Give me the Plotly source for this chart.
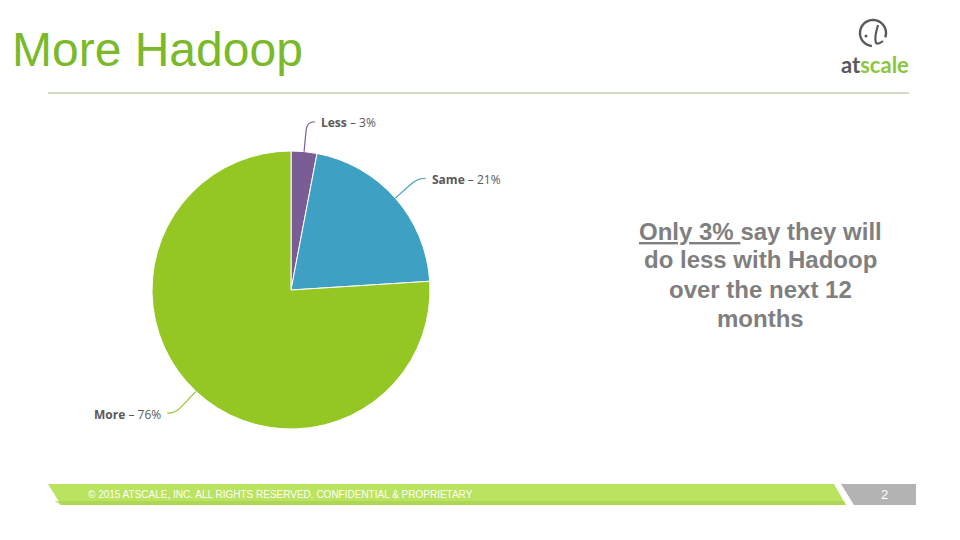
import math
import plotly.graph_objects as go

W, H = 960, 540

# survey answers: will you use Hadoop more / same / less over the next 12 months
labels = ["Less", "Same", "More"]
values = [3, 21, 76]
colors = ["#7B5D95", "#3EA1C3", "#94C724"]

title = "More Hadoop"
callout = ["Only 3% say they will", "do less with Hadoop", "over the next 12", "months"]
footer = "\u00a9 2015 ATSCALE, INC. ALL RIGHTS RESERVED. CONFIDENTIAL & PROPRIETARY"
page_no = "2"

# pie geometry in pixels
cx, cy, r = 291, 290, 139


def px(x):
    return x / W


def py(y):
    return 1 - y / H


def path(points, close=False):
    s = "M " + " L ".join(f"{px(x):.5f},{py(y):.5f}" for x, y in points)
    return s + (" Z" if close else "")


fig = go.Figure()
fig.add_trace(go.Pie(
    labels=labels, values=values, sort=False, direction="clockwise", rotation=0,
    marker=dict(colors=colors, line=dict(color="white", width=1)),
    textinfo="none", hoverinfo="label+percent", showlegend=False,
    domain=dict(x=[px(cx - r), px(cx + r)], y=[py(cy + r), py(cy - r)]),
))

shapes = []
annotations = []

# leader lines + labels, placed from the slice mid angles
total = sum(values)
acc = 0
for lab, v, col in zip(labels, values, colors):
    mid = (acc + v / 2) / total * 2 * math.pi
    acc += v
    dx, dy = math.sin(mid), -math.cos(mid)
    ex, ey = cx + r * dx, cy + r * dy
    bx, by = cx + (r + 22) * dx, cy + (r + 22) * dy
    kx, ky = cx + (r + 30) * dx, cy + (r + 30) * dy
    side = 1 if dx >= 0 else -1
    tx = kx + side * 8
    d = (f"M {px(ex):.5f},{py(ey):.5f} L {px(bx):.5f},{py(by):.5f} "
         f"Q {px(kx):.5f},{py(ky):.5f} {px(tx):.5f},{py(ky):.5f}")
    shapes.append(dict(type="path", path=d, xref="paper", yref="paper",
                       line=dict(color=col, width=1.2)))
    annotations.append(dict(
        x=px(tx + side * 4), y=py(ky + 1), xref="paper", yref="paper",
        text=f"<b>{lab}</b> \u2013 {round(v / total * 100)}%",
        showarrow=False, xanchor="left" if side > 0 else "right", yanchor="middle",
        font=dict(family="Open Sans", size=12, color="#595959")))

# rule under the title
shapes.append(dict(type="line", xref="paper", yref="paper",
                   x0=px(48), x1=px(909), y0=py(93), y1=py(93),
                   line=dict(color="#A3B58A", width=1)))

# footer bars
shapes.append(dict(type="path", xref="paper", yref="paper",
                   path=path([(48, 484), (834, 484), (846, 505), (61, 505)], close=True),
                   fillcolor="#BAE35F", line=dict(width=0)))
shapes.append(dict(type="path", xref="paper", yref="paper",
                   path=path([(54, 501), (844, 501), (846, 505), (61, 505)], close=True),
                   fillcolor="#A6CF4E", line=dict(width=0), opacity=0.6))
shapes.append(dict(type="path", xref="paper", yref="paper",
                   path=path([(841, 484), (916, 484), (916, 505), (854, 505)], close=True),
                   fillcolor="#B3B3B3", line=dict(width=0)))

# logo icon: open ring, inner stroke and dot
arc = []
for i in range(49):
    a = math.radians(-20 + i * 285 / 48)
    arc.append((873 + 13 * math.cos(a), 33 - 13 * math.sin(a)))
shapes.append(dict(type="path", xref="paper", yref="paper", path=path(arc),
                   line=dict(color="#58595B", width=2.4)))
shapes.append(dict(type="path", xref="paper", yref="paper",
                   path=(f"M {px(878):.5f},{py(25):.5f} Q {px(874):.5f},{py(38):.5f} "
                         f"{px(876):.5f},{py(43):.5f} Q {px(878):.5f},{py(45):.5f} {px(883):.5f},{py(41):.5f}"),
                   line=dict(color="#58595B", width=2.2)))
shapes.append(dict(type="circle", xref="paper", yref="paper",
                   x0=px(864.5), x1=px(867.5), y0=py(37.5), y1=py(34.5),
                   fillcolor="#58595B", line=dict(width=0)))

annotations.append(dict(x=px(875), y=py(65), xref="paper", yref="paper", showarrow=False,
                        text="<span style='color:#58595B'>at</span><span style='color:#8DC63F'>scale</span>",
                        xanchor="center", yanchor="middle",
                        font=dict(family="Lato", size=22, weight="bold")))

# title
annotations.append(dict(x=px(10), y=py(49), xref="paper", yref="paper", showarrow=False,
                        text=title, xanchor="left", yanchor="middle",
                        font=dict(family="Liberation Sans", size=48, color="#7AB929")))

# callout, one line per annotation to keep the slide's line pitch
first = callout[0].replace("Only 3% ", "<span style='text-decoration:underline'>Only 3%\u00a0</span>")
lines = [first] + callout[1:]
for i, t in enumerate(lines):
    annotations.append(dict(x=px(760), y=py(231 + 29 * i), xref="paper", yref="paper", showarrow=False,
                            text=t, xanchor="center", yanchor="middle",
                            font=dict(family="Liberation Sans", size=24, color="#7F7F7F", weight="bold")))

# footer text
annotations.append(dict(x=px(86), y=py(494.5), xref="paper", yref="paper", showarrow=False,
                        text=footer, xanchor="left", yanchor="middle",
                        font=dict(family="Liberation Sans", size=10, color="white")))
annotations.append(dict(x=px(884), y=py(494), xref="paper", yref="paper", showarrow=False,
                        text=page_no, xanchor="center", yanchor="middle",
                        font=dict(family="Liberation Sans", size=13, color="white")))

fig.update_layout(width=W, height=H, margin=dict(l=0, r=0, t=0, b=0),
                  paper_bgcolor="white", plot_bgcolor="white",
                  shapes=shapes, annotations=annotations)
fig.write_html("out.html", config={"displayModeBar": False},
               post_script="document.body.style.margin='0px';")
